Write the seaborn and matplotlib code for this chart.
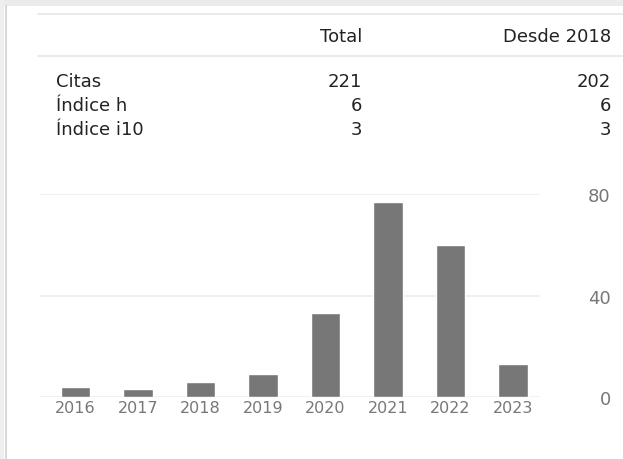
import matplotlib
matplotlib.use("Agg")
import matplotlib.pyplot as plt
from matplotlib.lines import Line2D
from matplotlib.patches import Rectangle
import seaborn as sns
import pandas as pd

# Citation data (read from the profile widget)
years = ["2016", "2017", "2018", "2019", "2020", "2021", "2022", "2023"]
citations = [4, 3, 6, 9, 33, 77, 60, 13]
y_ticks = [0, 40, 80]

# summary table
col_headers = ["Total", "Desde 2018"]
row_labels = ["Citas", "Índice h", "Índice i10"]
total_vals = ["221", "6", "3"]
since_vals = ["202", "6", "3"]

W, H = 623, 460
BAR_COLOR = "#777777"
TEXT_DARK = "#222222"
TEXT_GRAY = "#777777"
LINE_GRAY = "#e6e6e6"

sns.set_theme(style="white")
plt.rcParams["font.family"] = ["DejaVu Sans"]

fig = plt.figure(figsize=(W / 100, H / 100), dpi=100)
fig.patch.set_facecolor("white")

def fx(px):
    return px / W

def fy(py):
    return 1 - py / H

# screenshot edges: light grey strip at top and left
fig.add_artist(Rectangle((0, fy(7)), 1, 7 / H, transform=fig.transFigure,
                         color="#ebebeb", lw=0, zorder=0))
fig.add_artist(Rectangle((0, 0), fx(4), 1, transform=fig.transFigure,
                         color="#eeeeee", lw=0, zorder=0))
fig.add_artist(Line2D([fx(5.5), fx(5.5)], [0, fy(7)], transform=fig.transFigure,
                      color="#d9d9d9", lw=1.5))

# table rules
for py in [15, 57]:
    fig.add_artist(Line2D([fx(38), 1], [fy(py), fy(py)], transform=fig.transFigure,
                          color=LINE_GRAY, lw=1.2))

# table text
fs_table = 13
col_right = [362, 611]
for x_r, label in zip(col_right, col_headers):
    fig.text(fx(x_r), fy(42), label, ha="right", va="baseline",
             fontsize=fs_table, color=TEXT_DARK)

row_base = [87, 111, 135]
for yb, lab, tv, sv in zip(row_base, row_labels, total_vals, since_vals):
    fig.text(fx(56), fy(yb), lab, ha="left", va="baseline", fontsize=fs_table, color=TEXT_DARK)
    fig.text(fx(col_right[0]), fy(yb), tv, ha="right", va="baseline", fontsize=fs_table, color=TEXT_DARK)
    fig.text(fx(col_right[1]), fy(yb), sv, ha="right", va="baseline", fontsize=fs_table, color=TEXT_DARK)

# bar chart
ax = fig.add_axes([fx(40), (H - 398) / H, 500 / W, 203 / H])
df = pd.DataFrame({"year": years, "citations": citations})
sns.barplot(data=df, x="year", y="citations", color=BAR_COLOR, saturation=1,
            width=0.47, ax=ax, zorder=3)

ax.set_xlim(-0.568, 7.43)
ax.set_ylim(0, 80)
ax.set_yticks(y_ticks)
ax.yaxis.tick_right()
ax.grid(axis="y", color="#eeeeee", lw=1.2, zorder=0)
ax.set_axisbelow(True)
ax.set_xlabel("")
ax.set_ylabel("")
for s in ax.spines.values():
    s.set_visible(False)

ax.tick_params(axis="x", length=0, pad=2, labelsize=11.5, labelcolor=TEXT_GRAY)
ax.tick_params(axis="y", length=0, pad=51, labelsize=13, labelcolor=TEXT_GRAY)
for lab in ax.get_yticklabels():
    lab.set_horizontalalignment("right")

fig.savefig("out.png", dpi=100, facecolor="white")
